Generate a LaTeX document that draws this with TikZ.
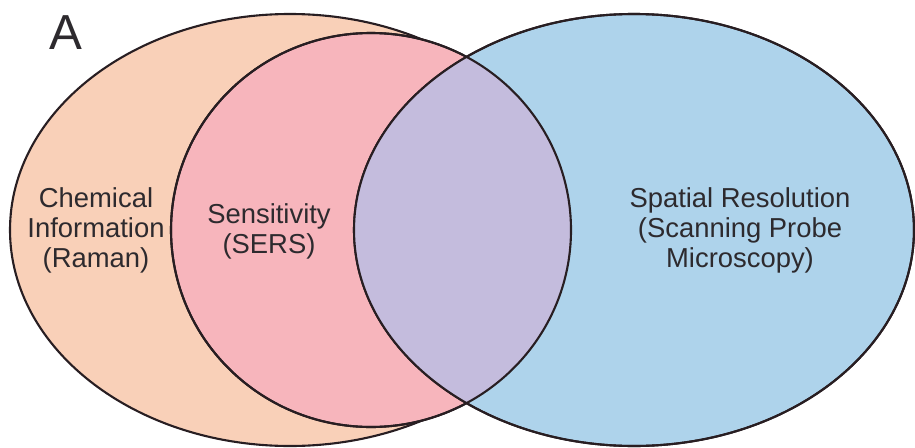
\documentclass[tikz,border=0pt]{standalone}
\usepackage{fontspec}
\setmainfont{Liberation Sans}
\usepackage{xcolor}
\usepackage{tikz}
\definecolor{ramancolor}{RGB}{249,208,184}
\definecolor{serscolor}{RGB}{247,181,188}
\definecolor{spmcolor}{RGB}{174,211,235}
\definecolor{overlapcolor}{RGB}{196,188,221}
\definecolor{edgecolor}{RGB}{40,30,34}
\definecolor{labelcolor}{RGB}{45,42,46}

\begin{document}
\begin{tikzpicture}[
set/.style={draw=edgecolor,line width=1.2pt},
lbl/.style={align=center,inner sep=0pt,text=labelcolor,font=\fontsize{15.6}{17.1}\selectfont}]
\useasboundingbox (0,0) rectangle (18.3,8.94);
% sets
\draw[set,fill=ramancolor] (5.8,4.34) ellipse [x radius=5.6cm,y radius=4.32cm];
\draw[set,fill=serscolor] (7.42,4.34) ellipse [x radius=4.0cm,y radius=3.94cm];
\draw[set,fill=spmcolor] (12.68,4.34) ellipse [x radius=5.6cm,y radius=4.32cm];
\begin{scope}
\clip (7.42,4.34) ellipse [x radius=4.0cm,y radius=3.94cm];
\fill[overlapcolor] (12.68,4.34) ellipse [x radius=5.6cm,y radius=4.32cm];
\end{scope}
\draw[set] (7.42,4.34) ellipse [x radius=4.0cm,y radius=3.94cm];
\draw[set] (12.68,4.34) ellipse [x radius=5.6cm,y radius=4.32cm];
% labels
\node[anchor=base,inner sep=0pt,text=labelcolor,font=\fontsize{28}{32}\selectfont] (tag) at (1.32,7.94) {A};
\node[lbl] (chem) at (1.92,4.34) {Chemical\\Information\\(Raman)};
\node[lbl] (sens) at (5.38,4.32) {Sensitivity\\(SERS)};
\node[lbl] (spat) at (14.80,4.34) {Spatial Resolution\\(Scanning Probe\\Microscopy)};
\end{tikzpicture}
\end{document}
